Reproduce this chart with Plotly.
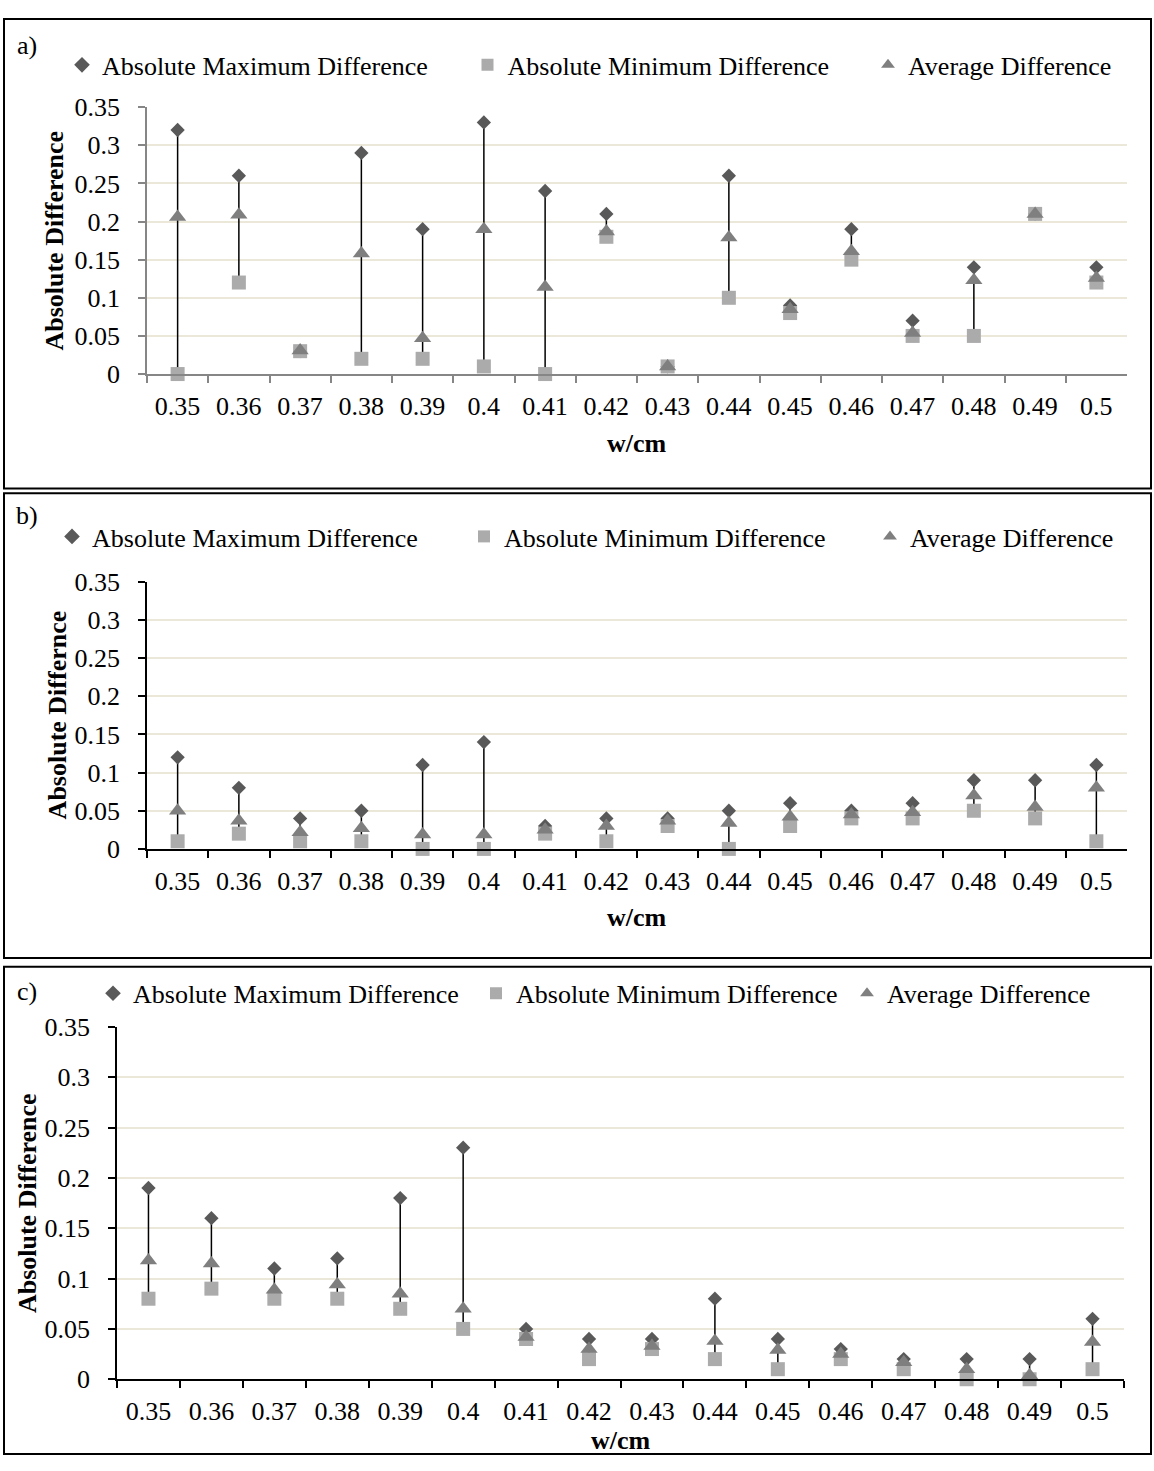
import plotly.graph_objects as go

# ---------------- data ----------------
w_cm = ["0.35", "0.36", "0.37", "0.38", "0.39", "0.4", "0.41", "0.42",
        "0.43", "0.44", "0.45", "0.46", "0.47", "0.48", "0.49", "0.5"]

a_max = [0.32, 0.26, 0.03, 0.29, 0.19, 0.33, 0.24, 0.21, 0.01, 0.26, 0.09, 0.19, 0.07, 0.14, 0.21, 0.14]
a_min = [0.00, 0.12, 0.03, 0.02, 0.02, 0.01, 0.00, 0.18, 0.01, 0.10, 0.08, 0.15, 0.05, 0.05, 0.21, 0.12]
a_avg = [0.206, 0.209, 0.031, 0.158, 0.047, 0.19, 0.114, 0.187, 0.01, 0.179, 0.085, 0.161, 0.054, 0.123, 0.21, 0.126]

b_max = [0.12, 0.08, 0.04, 0.05, 0.11, 0.14, 0.03, 0.04, 0.04, 0.05, 0.06, 0.05, 0.06, 0.09, 0.09, 0.11]
b_min = [0.01, 0.02, 0.01, 0.01, 0.00, 0.00, 0.02, 0.01, 0.03, 0.00, 0.03, 0.04, 0.04, 0.05, 0.04, 0.01]
b_avg = [0.05, 0.037, 0.022, 0.027, 0.019, 0.019, 0.025, 0.03, 0.037, 0.034, 0.042, 0.045, 0.048, 0.07, 0.055, 0.08]

c_max = [0.19, 0.16, 0.11, 0.12, 0.18, 0.23, 0.05, 0.04, 0.04, 0.08, 0.04, 0.03, 0.02, 0.02, 0.02, 0.06]
c_min = [0.08, 0.09, 0.08, 0.08, 0.07, 0.05, 0.04, 0.02, 0.03, 0.02, 0.01, 0.02, 0.01, 0.00, 0.00, 0.01]
c_avg = [0.118, 0.115, 0.089, 0.094, 0.085, 0.07, 0.042, 0.03, 0.033, 0.038, 0.029, 0.025, 0.017, 0.01, 0.004, 0.037]

series_names = ["Absolute Maximum Difference", "Absolute Minimum Difference", "Average Difference"]
panel_labels = ["a)", "b)", "c)"]
y_titles = ["Absolute Difference", "Absolute Differnce", "Absolute Difference"]
x_title = "w/cm"

# ---------------- styling / layout geometry (pixels) ----------------
W, H = 1154, 1471
FONT = "Liberation Serif, Times New Roman, serif"

def px(x):
    return x / W

def py(y):
    return 1 - y / H

panels = [
    dict(data=(a_max, a_min, a_avg), x0=147, x1=1127, ytop=95, ybot=367.3,
         axc="#868686", box=(4, 5, 1151, 484), lab=(27, 32), leg_y=52,
         leg_x=82, leg_w=(405.5, 400.5, 260), ytx=55, xty=438),
    dict(data=(b_max, b_min, b_avg), x0=147, x1=1127, ytop=579.3, ybot=851.7,
         axc="#000000", box=(4, 489, 1151, 963), lab=(27, 512), leg_y=533,
         leg_x=72, leg_w=(412, 406, 260), ytx=57, xty=922),
    dict(data=(c_max, c_min, c_avg), x0=117, x1=1124, ytop=1033.3, ybot=1392.7,
         axc="#000000", box=(4, 972, 1151, 1469), lab=(27, 997), leg_y=999,
         leg_x=113, leg_w=(383, 371, 260), ytx=27, xty=1455),
]

colors = ["#595959", "#ABABAB", "#7F7F7F"]
symbols = ["diamond", "square", "triangle-up"]
sizes = [11, 14, 15]

fig = go.Figure()
layout = dict(
    width=W, height=H, margin=dict(l=0, r=0, t=0, b=0),
    paper_bgcolor="white", plot_bgcolor="white",
    font=dict(family=FONT, size=26, color="#000000"),
    annotations=[], shapes=[],
)

for i, p in enumerate(panels):
    k = "" if i == 0 else str(i + 1)
    xa, ya = "x" + k, "y" + k
    leg = "legend" + k
    mx, mn, av = p["data"]

    # high-low lines connecting min and max of each category
    lx, ly = [], []
    for cat, lo, hi in zip(w_cm, mn, mx):
        lx += [cat, cat, None]
        ly += [lo, hi, None]
    fig.add_trace(go.Scatter(x=lx, y=ly, mode="lines", xaxis=xa, yaxis=ya,
                             line=dict(color="#000000", width=1.5),
                             showlegend=False, hoverinfo="skip", cliponaxis=False))

    for j, vals in enumerate((mx, mn, av)):
        fig.add_trace(go.Scatter(
            x=w_cm, y=vals, mode="markers", name=series_names[j],
            xaxis=xa, yaxis=ya, legend=leg, legendwidth=p["leg_w"][j] - 45,
            marker=dict(symbol=symbols[j], size=sizes[j], color=colors[j],
                        line=dict(width=0)),
            cliponaxis=False))

    layout["xaxis" + k] = dict(
        domain=[px(p["x0"]), px(p["x1"])], anchor=ya, type="category",
        range=[-0.5, len(w_cm) - 0.5], tickson="boundaries",
        ticks="outside", ticklen=7, tickwidth=1.5, tickcolor=p["axc"],
        showline=True, linecolor=p["axc"], linewidth=1.5,
        showgrid=False, zeroline=False, ticklabelstandoff=8,
        tickfont=dict(size=26, family=FONT),
    )
    layout["yaxis" + k] = dict(
        domain=[py(p["ybot"]), py(p["ytop"])], anchor=xa,
        range=[0, 0.35], dtick=0.05, tick0=0,
        ticks="outside", ticklen=7, tickwidth=1.5, tickcolor=p["axc"],
        showline=True, linecolor=p["axc"], linewidth=1.5,
        showgrid=True, gridcolor="#EBE8DA", gridwidth=2,
        zeroline=False, ticklabelstandoff=13,
        tickfont=dict(size=26, family=FONT),
    )
    layout[leg] = dict(
        orientation="h", x=px(p["leg_x"] - 20), y=py(p["leg_y"]),
        xanchor="left", yanchor="middle", itemsizing="constant",
        font=dict(size=26, family=FONT), bgcolor="rgba(0,0,0,0)",
        borderwidth=0, tracegroupgap=0, itemclick=False,
    )

    bx0, by0, bx1, by1 = p["box"]
    layout["shapes"].append(dict(type="rect", xref="paper", yref="paper",
                                 x0=px(bx0), x1=px(bx1), y0=py(by1), y1=py(by0),
                                 line=dict(color="#000000", width=2)))
    layout["annotations"].append(dict(
        text=panel_labels[i], xref="paper", yref="paper",
        x=px(p["lab"][0]), y=py(p["lab"][1]), xanchor="center", yanchor="middle",
        showarrow=False, font=dict(size=26, family=FONT)))
    layout["annotations"].append(dict(
        text="<b>" + y_titles[i] + "</b>", xref="paper", yref="paper",
        x=px(p["ytx"]), y=py((p["ytop"] + p["ybot"]) / 2), textangle=-90,
        xanchor="center", yanchor="middle", showarrow=False,
        font=dict(size=26, family=FONT)))
    layout["annotations"].append(dict(
        text="<b>" + x_title + "</b>", xref="paper", yref="paper",
        x=px((p["x0"] + p["x1"]) / 2), y=py(p["xty"]),
        xanchor="center", yanchor="middle", showarrow=False,
        font=dict(size=26, family=FONT)))

fig.update_layout(**layout)
fig.write_html("out.html",
               config={"displayModeBar": False},
               post_script="document.body.style.margin='0px';"
                           "document.body.style.overflow='hidden';")
